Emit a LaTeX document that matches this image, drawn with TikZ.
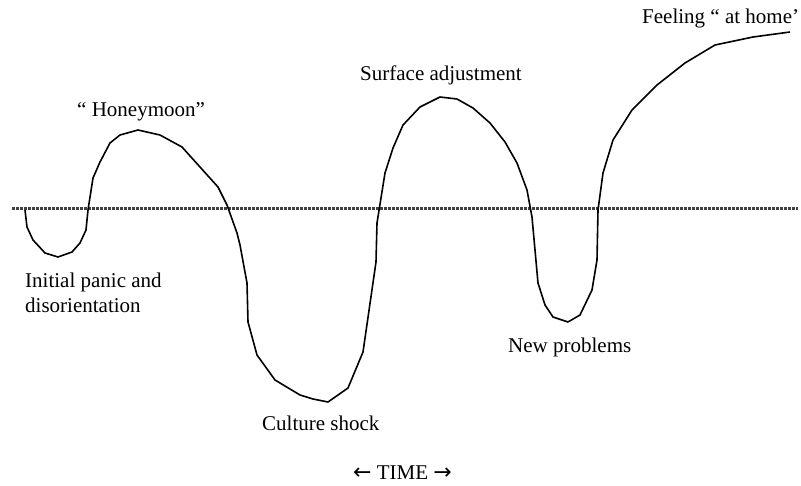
\documentclass[tikz,border=0pt]{standalone}
\usepackage{fontspec}
\setmainfont{Liberation Serif}
\newfontfamily\arrowfont{DejaVu Sans}
\begin{document}
\begin{tikzpicture}[x=1pt,y=-1pt,
  lbl/.style={anchor=base west,inner sep=0pt,font=\fontsize{21}{25}\selectfont,align=left},
  curve/.style={line width=1.6pt,line join=round,black},
  baseline line/.style={line width=2.4pt,black!75,dash pattern=on 2.8pt off 1.2pt}]
\useasboundingbox (0,0) rectangle (801,485);
\draw[baseline line] (12,208.5) -- (798,208.5);
\draw[curve] (25,210)--(27,227)--(33,240)--(45,253)--(58,257)--(72,252)--(80,243)--(86,230)--(88,210)--(93,178)--(100,162)--(110,143)--(120,135)--(138,130)--(160,135)--(182,147)--(200,167)--(218,187)--(227,205)--(237,233)--(240,245)--(247,283)--(248,322)--(257,355)--(275,380)--(300,395)--(313,399)--(328,402)--(348,388)--(363,352)--(376,262)--(377,223)--(385,173)--(393,148)--(403,125)--(420,107)--(440,97)--(457,99)--(473,108)--(490,123)--(505,142)--(517,163)--(527,190)--(532,217)--(538,283)--(545,305)--(553,317)--(568,322)--(580,315)--(592,290)--(597,260)--(598,210)--(603,173)--(613,140)--(632,110)--(657,85)--(685,63)--(715,45)--(753,37)--(790,32);
\node[lbl] (honey) at (77,116) {“ Honeymoon”};
\node[lbl] (surf) at (360,80) {Surface adjustment};
\node[lbl] (home) at (642,23) {Feeling “ at home’};
\node[lbl] (panic) at (25,287) {Initial panic and};
\node[lbl] (disor) at (25,312) {disorientation};
\node[lbl] (shock) at (262,430) {Culture shock};
\node[lbl] (newp) at (508,352) {New problems};
\node[lbl] (time) at (353,479) {\fontsize{22}{25}\arrowfont ←\fontsize{21}{25}\rmfamily\ TIME \fontsize{22}{25}\arrowfont →};
\end{tikzpicture}
\end{document}
